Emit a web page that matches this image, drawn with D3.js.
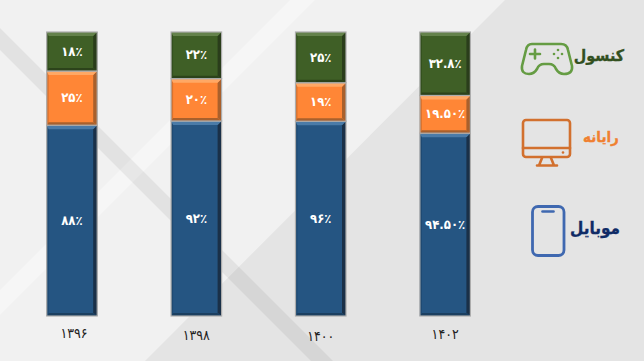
<!DOCTYPE html>
<html>
<head>
    <meta charset="UTF-8">
    <title>Platform share</title>
    <style>
        body {
            margin: 0;
            overflow: hidden;
            background-color: #f1f1f1;
        }
        text {
            font-family: "DejaVu Sans Condensed", "DejaVu Sans", sans-serif;
        }
    </style>
    <script src="https://cdn.jsdelivr.net/npm/d3@7"></script>
</head>
<body>
    <script>
        const years = ["1396", "1398", "1400", "1402"];
        const mobile = [88, 92, 96, 94.5];
        const computer = [25, 20, 19, 19.5];
        const consoleGames = [18, 22, 25, 32.8];
        const mobileLabels = ["88", "92", "96", "94.50"];
        const computerLabels = ["25", "20", "19", "19.50"];
        const consoleLabels = ["18", "22", "25", "32.8"];

        const width = 644;
        const height = 361;
        const svg = d3.select("body").append("svg")
            .attr("width", width)
            .attr("height", height)
            .style("display", "block");

        // Persian digits for every printed number
        const fa = s => s.replace(/\d/g, d => "۰۱۲۳۴۵۶۷۸۹"[+d]);

        // background: pale slide with diagonal bands
        svg.append("rect").attr("width", width).attr("height", height).attr("fill", "#f1f1f1");
        svg.append("path").attr("d", "M505,0 L644,0 L644,361 L145,361 Z").attr("fill", "#e4e4e4");
        svg.append("path").attr("d", "M0,290 L290,0 L315,0 L0,315 Z").attr("fill", "#fff").attr("opacity", 0.35);
        svg.append("path").attr("d", "M0,28 L333,361 L311,361 L0,50 Z").attr("fill", "#000").attr("opacity", 0.06);

        const series = [
            {key: "mobile", values: mobile, labels: mobileLabels, color: "#255582", light: "#4a7ba8", dark: "#1a3048", left: "#1f4a72", bottom: "#1b3f60"},
            {key: "computer", values: computer, labels: computerLabels, color: "#ff8636", light: "#ffa865", dark: "#a9602c", left: "#d8722e", bottom: "#a9602c"},
            {key: "console", values: consoleGames, labels: consoleLabels, color: "#3f5f26", light: "#64824b", dark: "#2a3d1b", left: "#33501e", bottom: "#2c431b"}
        ];
        const table = years.map((y, i) => ({
            year: y,
            mobile: mobile[i],
            computer: computer[i],
            console: consoleGames[i]
        }));
        const stack = d3.stack()
            .keys(series.map(s => s.key))
            .offset(d3.stackOffsetExpand);
        const layers = stack(table);

        const x = d3.scaleBand()
            .domain(years)
            .range([46.7, 470.4])
            .paddingInner(0.594)
            .paddingOuter(0);
        const y = d3.scaleLinear().domain([0, 1]).range([316, 32]);

        // each segment gets a bevelled box, PowerPoint style
        const bev = {top: 4, bottom: 3, left: 2, right: 4};
        const pts = arr => arr.map(p => p.join(",")).join(" ");
        layers.forEach((layer, si) => {
            const s = series[si];
            const g = svg.append("g");
            layer.forEach((d, i) => {
                const x0 = x(years[i]);
                const x1 = x0 + x.bandwidth();
                const y0 = y(d[1]);
                const y1 = y(d[0]);
                const seg = g.append("g");
                seg.append("rect")
                    .attr("x", x0).attr("y", y0)
                    .attr("width", x1 - x0).attr("height", y1 - y0)
                    .attr("fill", s.color);
                seg.append("polygon")
                    .attr("points", pts([[x0, y0], [x0 + bev.left, y0 + bev.top], [x0 + bev.left, y1 - bev.bottom], [x0, y1]]))
                    .attr("fill", s.left);
                seg.append("polygon")
                    .attr("points", pts([[x1, y0], [x1 - bev.right, y0 + bev.top], [x1 - bev.right, y1 - bev.bottom], [x1, y1]]))
                    .attr("fill", s.dark);
                seg.append("polygon")
                    .attr("points", pts([[x0, y0], [x1, y0], [x1 - bev.right, y0 + bev.top], [x0 + bev.left, y0 + bev.top]]))
                    .attr("fill", s.light);
                seg.append("polygon")
                    .attr("points", pts([[x0, y1], [x1, y1], [x1 - bev.right, y1 - bev.bottom], [x0 + bev.left, y1 - bev.bottom]]))
                    .attr("fill", s.bottom);
                seg.append("rect")
                    .attr("x", x0).attr("y", y0)
                    .attr("width", x1 - x0).attr("height", y1 - y0)
                    .attr("fill", "none")
                    .attr("stroke", "#adadad")
                    .attr("stroke-width", 1.2);
                seg.append("text")
                    .attr("x", (x0 + x1) / 2)
                    .attr("y", (y0 + y1) / 2 - 0.5)
                    .attr("dy", "0.36em")
                    .attr("text-anchor", "middle")
                    .attr("fill", "#fff")
                    .attr("font-size", 13)
                    .attr("font-weight", "bold")
                    .text(fa(s.labels[i]) + "٪");
            });
        });

        // year labels, the slide has them slightly out of line
        const nudge = {"1396": [2, 0], "1398": [0, 2.5], "1400": [0, 3], "1402": [0, 1]};
        const axis = svg.append("g")
            .attr("transform", "translate(0,325)")
            .call(d3.axisBottom(x).tickSize(0).tickFormat(fa));
        axis.select(".domain").remove();
        axis.selectAll("text")
            .attr("transform", d => `translate(${nudge[d][0]},${nudge[d][1]})`)
            .attr("font-size", 14)
            .attr("font-family", "DejaVu Sans Condensed")
            .attr("fill", "#222");

        // legend icons
        const green = "#659c43", orange = "#d2702e", blue = "#3f68b0";
        const icons = svg.append("g").attr("fill", "none").attr("stroke-linejoin", "round").attr("stroke-linecap", "round");
        icons.append("path")
            .attr("d", "M532,44 L561,44 Q567,44 568,50 L572,66 Q573,74 564,74 Q559,74 556,69 Q554,64 549,64 L544,64 Q539,64 537,69 Q534,74 529,74 Q521,74 522,66 L526,50 Q527,44 532,44 Z")
            .attr("stroke", green).attr("stroke-width", 2.6);
        icons.append("path").attr("d", "M530,54 H540 M535,49.5 V58.5").attr("stroke", green).attr("stroke-width", 2.6);
        icons.selectAll("circle.btn").data([[558, 50], [554, 54], [562, 54], [558, 58]]).join("circle")
            .attr("class", "btn")
            .attr("cx", d => d[0]).attr("cy", d => d[1]).attr("r", 1.3)
            .attr("fill", green);

        icons.append("rect").attr("x", 523).attr("y", 120).attr("width", 47).attr("height", 37).attr("rx", 3)
            .attr("stroke", orange).attr("stroke-width", 2.6);
        icons.append("path").attr("d", "M523,148 H570").attr("stroke", orange).attr("stroke-width", 2.6);
        icons.append("circle").attr("cx", 563).attr("cy", 152.5).attr("r", 1.3).attr("fill", orange);
        icons.append("path").attr("d", "M542,158 L539,165.5 M551,158 L554,165.5 M537,165.5 H557").attr("stroke", orange).attr("stroke-width", 2.6);

        icons.append("rect").attr("x", 532.5).attr("y", 206.5).attr("width", 31.5).attr("height", 49).attr("rx", 5.5)
            .attr("stroke", blue).attr("stroke-width", 2.8);
        icons.append("path").attr("d", "M542.5,211.5 H553.5").attr("stroke", blue).attr("stroke-width", 2.6);

        const legend = [
            {label: "کنسول", cx: 599, cy: 55, color: "#33501f", size: 16},
            {label: "رایانه", cx: 601, cy: 137, color: "#f08030", size: 15},
            {label: "موبایل", cx: 595, cy: 228, color: "#0f2a66", size: 17}
        ];
        svg.selectAll("text.legend").data(legend).join("text")
            .attr("class", "legend")
            .attr("x", d => d.cx)
            .attr("y", d => d.cy)
            .attr("dy", "0.36em")
            .attr("text-anchor", "middle")
            .attr("direction", "rtl")
            .attr("font-weight", "bold")
            .attr("font-size", d => d.size)
            .attr("fill", d => d.color)
            .attr("stroke", d => d.color)
            .attr("stroke-width", 0.3)
            .text(d => d.label);
    </script>
</body>
</html>
